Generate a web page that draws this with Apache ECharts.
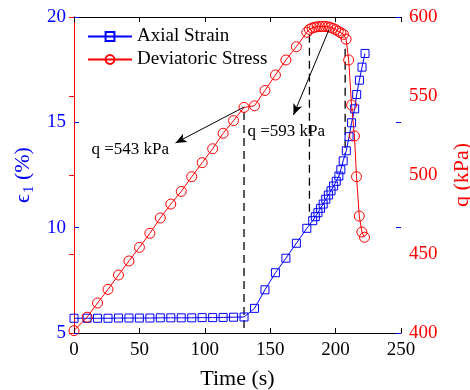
<!DOCTYPE html>
<html>
<head>
<meta charset="utf-8">
<script src="https://cdn.jsdelivr.net/npm/echarts@6/dist/echarts.min.js"></script>
<style>
  html, body { margin: 0; padding: 0; background: #fff; overflow: hidden; width: 100%; height: 100%; }
  #chart { width: 470px; height: 390px; }
</style>
</head>
<body>
<div id="chart"></div>
<script>
// Axial strain (%) against time (s)
const strainTime = [0, 10, 18, 26, 34, 42, 50, 58, 66, 74, 82, 90, 98, 106, 114, 122, 130,
  138, 146, 154, 162, 170, 178, 182.5, 184.5, 186.5, 188.5, 190.5, 192.5, 194.5, 196.5,
  198.5, 200.5, 202.5, 204, 205.8, 208.2, 210.3, 212.2, 214.6, 216.1, 218.2, 220.2, 222.5];
const strainValues = [5.70, 5.70, 5.70, 5.70, 5.71, 5.71, 5.71, 5.71, 5.72, 5.72, 5.72, 5.72,
  5.73, 5.73, 5.74, 5.75, 5.76, 6.17, 7.05, 7.86, 8.55, 9.26, 9.97, 10.33, 10.52, 10.71,
  10.92, 11.12, 11.35, 11.55, 11.75, 11.98, 12.20, 12.45, 12.75, 13.17, 13.65, 14.32,
  14.98, 15.64, 16.32, 17.00, 17.62, 18.27];

// Deviatoric stress q (kPa) against time (s)
const stressTime = [0, 10, 18, 26, 34, 42, 50, 58, 66, 74, 82, 90, 98, 106, 114, 122, 130,
  138, 146, 154, 162, 170, 178, 180, 182, 184, 186, 188, 190, 192, 194, 196, 198, 200, 202,
  204, 206, 208, 210, 212.2, 214.4, 216, 218.1, 220.1, 222.1];
const stressValues = [401.5, 410, 419, 427.6, 436.7, 445.6, 454.2, 463.1, 472.8, 481.6, 489.6,
  498.9, 507.8, 516.6, 526.4, 534.4, 542.8, 543.8, 553.5, 563.3, 572.8, 581.2, 590.3, 592.2,
  593.0, 593.5, 593.8, 594.0, 594.0, 594.0, 593.8, 593.4, 592.8, 592.0, 591.0, 590.0, 589.0,
  586.0, 572.8, 544.3, 524.7, 498.9, 474.0, 463.9, 460.6];

// Axis ticks
const timeTicks = [0, 250, 50];
const strainTicks = [5, 20, 5];
const stressTicks = [400, 600, 50];

// Guide lines: time, stress at the top end, strain at the bottom end
const guideTime = [130, 180, 207.3];
const guideStress = [543, 592, 583];
const guideStrain = [5, 10.5, 13.5];

// Callouts: text, arrow start [t, q], arrow end [t, q]
const calloutText = ['q =543 kPa', 'q =593 kPa'];
const calloutFrom = [[130, 543], [194.8, 591.8]];
const calloutTo = [[77.6, 520.3], [167.8, 538]];

const BLUE = '#0000ff';
const RED = '#ff0000';
const FONT = '"Liberation Serif", "Times New Roman", serif';

const toPairs = (xs, ys) => xs.map((x, i) => [x, ys[i]]);

const chart = echarts.init(document.getElementById('chart'), null, {
  renderer: 'canvas', width: 470, height: 390
});

const option = {
  animation: false,
  backgroundColor: '#fff',
  grid: { left: 74, right: 69, top: 17, bottom: 57, containLabel: false, outerBoundsMode: 'none' },
  legend: {
    orient: 'vertical',
    left: 87,
    top: 27,
    padding: 0,
    itemWidth: 44,
    itemHeight: 11,
    itemGap: 4,
    textStyle: { fontFamily: FONT, fontSize: 19, color: '#000' },
    data: ['Axial Strain', 'Deviatoric Stress']
  },
  xAxis: [
    {
      type: 'value', position: 'bottom',
      min: timeTicks[0], max: timeTicks[1], interval: timeTicks[2],
      name: 'Time (s)', nameLocation: 'middle', nameGap: 35,
      nameTextStyle: { fontFamily: FONT, fontSize: 22, color: '#000' },
      axisLine: { lineStyle: { color: '#000', width: 1 } },
      axisTick: { inside: true, length: 5, lineStyle: { color: '#000' } },
      axisLabel: { fontFamily: FONT, fontSize: 19, color: '#000', margin: 8 },
      splitLine: { show: false }
    },
    {
      type: 'value', position: 'top',
      min: timeTicks[0], max: timeTicks[1], interval: timeTicks[2],
      axisLine: { lineStyle: { color: '#000', width: 1 } },
      axisTick: { inside: true, length: 5, lineStyle: { color: '#000' } },
      axisLabel: { show: false },
      splitLine: { show: false }
    }
  ],
  yAxis: [
    {
      type: 'value', position: 'left',
      min: strainTicks[0], max: strainTicks[1], interval: strainTicks[2],
      name: '{e|\u03f5}{s|1}{e| (%)}', nameLocation: 'middle', nameGap: 31, nameRotate: 90,
      nameTextStyle: {
        color: BLUE,
        rich: {
          e: { fontFamily: FONT, fontSize: 22, color: BLUE },
          s: { fontFamily: FONT, fontSize: 15, color: BLUE, padding: [10, 0, 0, 1] }
        }
      },
      axisLine: { lineStyle: { color: BLUE, width: 1 } },
      axisTick: { inside: true, length: 5, lineStyle: { color: BLUE } },
      axisLabel: { fontFamily: FONT, fontSize: 19, color: BLUE, margin: 8 },
      splitLine: { show: false }
    },
    {
      type: 'value', position: 'right',
      min: stressTicks[0], max: stressTicks[1], interval: stressTicks[2],
      name: 'q (kPa)', nameLocation: 'middle', nameGap: 50, nameRotate: 90,
      nameTextStyle: { fontFamily: FONT, fontSize: 22, color: RED },
      axisLine: { lineStyle: { color: RED, width: 1 } },
      axisTick: { inside: true, length: 5, lineStyle: { color: RED } },
      axisLabel: { fontFamily: FONT, fontSize: 19, color: RED, margin: 8 },
      splitLine: { show: false }
    },
    {
      // strain ticks repeated along the right edge of the box
      type: 'value', position: 'right',
      min: strainTicks[0], max: strainTicks[1], interval: strainTicks[2],
      axisLine: { show: false },
      axisTick: { inside: true, length: 5, lineStyle: { color: BLUE } },
      axisLabel: { show: false },
      splitLine: { show: false }
    }
  ],
  series: [
    {
      name: 'Axial Strain', type: 'line', xAxisIndex: 0, yAxisIndex: 0,
      data: toPairs(strainTime, strainValues),
      symbol: 'rect', symbolSize: 8,
      lineStyle: { color: BLUE, width: 1 },
      itemStyle: { color: 'rgba(0,0,0,0)', borderColor: BLUE, borderWidth: 1 },
      emphasis: { disabled: true },
      z: 3
    },
    {
      name: 'Deviatoric Stress', type: 'line', xAxisIndex: 0, yAxisIndex: 1,
      data: toPairs(stressTime, stressValues),
      symbol: 'circle', symbolSize: 10,
      lineStyle: { color: RED, width: 1 },
      itemStyle: { color: 'rgba(0,0,0,0)', borderColor: RED, borderWidth: 1 },
      emphasis: { disabled: true },
      z: 3,
      markLine: {
        silent: true,
        animation: false,
        symbol: ['none', 'arrow'],
        symbolSize: [7, 11],
        label: { show: false },
        lineStyle: { color: '#000', width: 1, type: 'solid' },
        emphasis: { disabled: true },
        data: calloutFrom.map((p, i) => [{ coord: p }, { coord: calloutTo[i] }])
      }
    }
  ]
};

chart.setOption(option);

// Dashed guides join each stress point to the strain curve below it,
// and the callout texts sit just below the arrow tips.
const graphics = [];
guideTime.forEach((t, i) => {
  const top = chart.convertToPixel({ xAxisIndex: 0, yAxisIndex: 1 }, [t, guideStress[i]]);
  const bottom = chart.convertToPixel({ xAxisIndex: 0, yAxisIndex: 0 }, [t, guideStrain[i]]);
  graphics.push({
    type: 'line', silent: true, z: 2,
    shape: { x1: top[0], y1: top[1] + 5, x2: bottom[0], y2: bottom[1] },
    style: { stroke: '#000', lineWidth: 1.3, lineDash: [8, 5] }
  });
});
const textOffsets = [[-84, 7], [-46, 17]];
calloutText.forEach((txt, i) => {
  const tip = chart.convertToPixel({ xAxisIndex: 0, yAxisIndex: 1 }, calloutTo[i]);
  graphics.push({
    type: 'text', silent: true, z: 4,
    x: tip[0] + textOffsets[i][0], y: tip[1] + textOffsets[i][1],
    style: {
      text: txt, fill: '#000', font: '17px ' + FONT,
      align: 'left', verticalAlign: 'middle'
    }
  });
});
chart.setOption({ graphic: graphics });
</script>
</body>
</html>
